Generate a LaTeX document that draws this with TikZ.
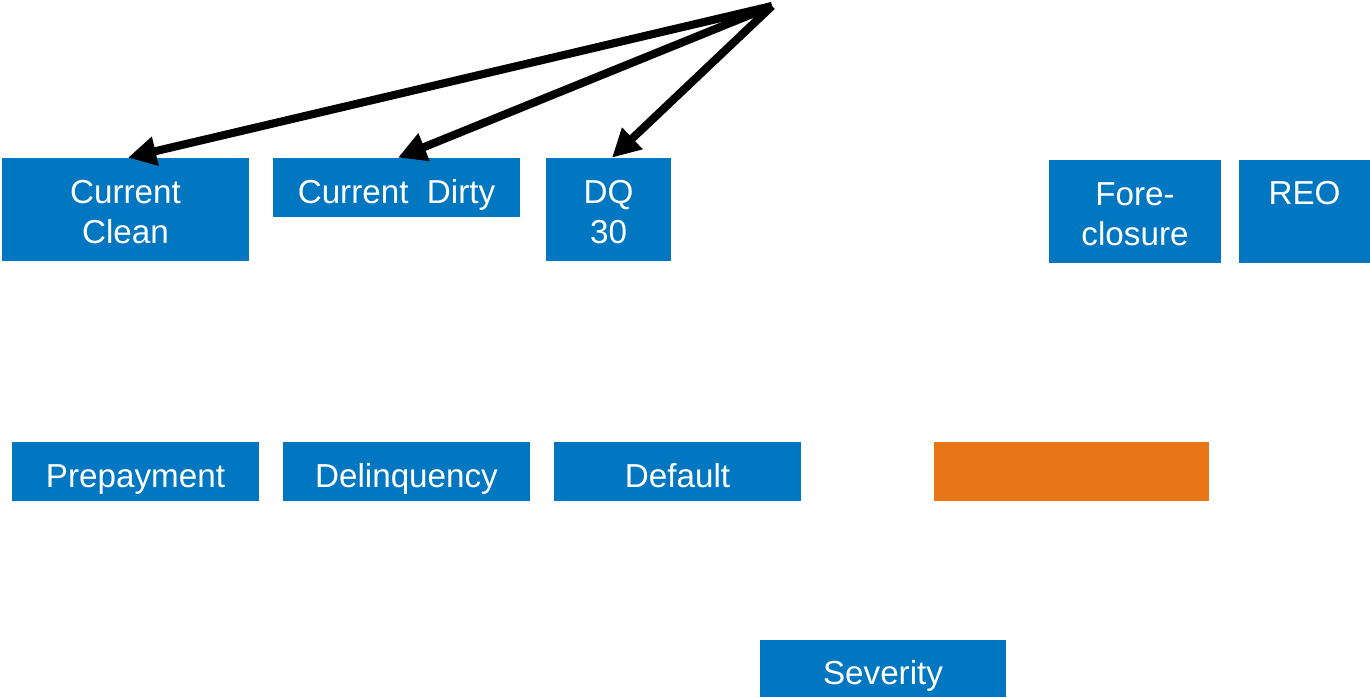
\documentclass[tikz,border=0pt]{standalone}
\usepackage{fontspec}
\setmainfont{Liberation Sans}
\usetikzlibrary{arrows.meta}
\definecolor{stateblue}{RGB}{0,119,192}
\definecolor{stateorange}{RGB}{233,118,22}

\begin{document}
\begin{tikzpicture}[
  state/.style={fill=stateblue,text=white,inner sep=0pt,align=center,
    font=\fontsize{18.9}{22.7}\selectfont},
  tall/.style={state,minimum height=2.06cm,text height=1.7cm,text depth=0.36cm},
  flat/.style={state,minimum height=1.18cm,text height=0.9cm,text depth=0.28cm},
  push/.style={line width=4.6pt,-{Triangle[length=16pt,width=16pt]}}]
\useasboundingbox (0,0) rectangle (27.4,-13.94);

\coordinate (top) at (15.44,-0.12);

\node[tall,minimum width=4.94cm] (cclean) at (2.51,-4.19) {Current\\Clean};
\node[flat,minimum width=4.94cm] (cdirty) at (7.93,-3.75) {Current\ \ Dirty};
\node[tall,minimum width=2.5cm] (dq30) at (12.17,-4.19) {DQ\\30};
\node[tall,minimum width=3.44cm] (fc) at (22.7,-4.23) {Fore-\\closure};
\node[tall,minimum width=2.62cm,text height=0.88cm,text depth=1.18cm] (reo)
  at (26.09,-4.23) {REO};

\node[flat,minimum width=4.94cm] (prepay) at (2.71,-9.43) {Prepayment};
\node[flat,minimum width=4.94cm] (delinq) at (8.13,-9.43) {Delinquency};
\node[flat,minimum width=4.94cm] (dflt) at (13.55,-9.43) {Default};
\node[flat,minimum width=5.5cm,fill=stateorange] (blank) at (21.43,-9.43) {};

\node[state,minimum width=4.92cm,minimum height=1.14cm,text height=0.88cm,
  text depth=0.26cm] (sev) at (17.66,-13.37) {Severity};

\draw[push] (top) -- ([xshift=0.05cm]cclean.north);
\draw[push] (top) -- ([xshift=0.03cm]cdirty.north);
\draw[push] (top) -- ([xshift=0.07cm]dq30.north);
\end{tikzpicture}
\end{document}
